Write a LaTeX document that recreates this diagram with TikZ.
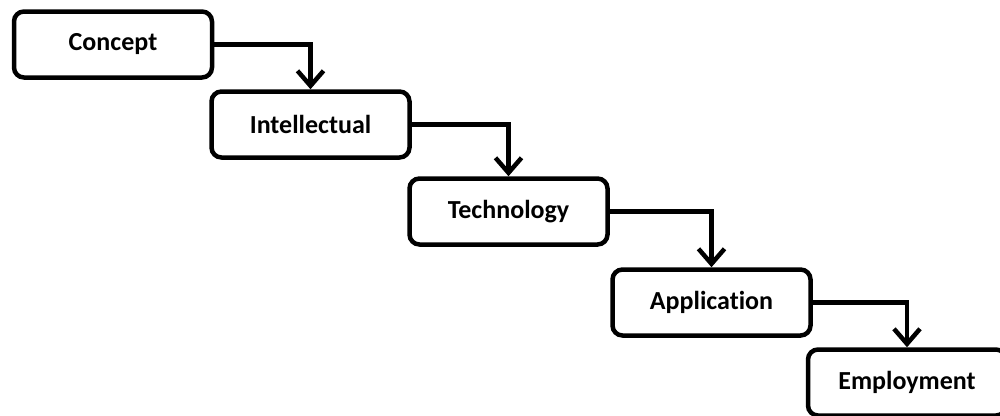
\documentclass[tikz,border=0pt]{standalone}
\usepackage{fontspec}
\setmainfont{Carlito}[Ligatures=NoCommon]
\usetikzlibrary{arrows.meta}
\begin{document}
\begin{tikzpicture}[x=1pt,y=-1pt,
  stagebox/.style={draw=black,line width=4.5pt,rounded corners=10pt,fill=white,
    minimum width=198pt,minimum height=66pt,inner sep=0pt,
    font=\fontsize{26}{30}\selectfont\bfseries},
  flow/.style={line width=4.5pt,-{Straight Barb[length=15pt,width=26pt]}}]
\useasboundingbox (0,0) rectangle (1000,415);
\node[stagebox] (c) at (113,44.5) {Concept};
\node[stagebox] (i) at (310.5,124.5) {Intellectual};
\node[stagebox] (t) at (508.5,211.5) {Technology};
\node[stagebox] (a) at (711.5,302.5) {Application};
\node[stagebox] (e) at (907,382.5) {Employment};
\draw[flow] (c.east) -| (i.north);
\draw[flow] (i.east) -| (t.north);
\draw[flow] (t.east) -| (a.north);
\draw[flow] (a.east) -| (e.north);
\end{tikzpicture}
\end{document}
